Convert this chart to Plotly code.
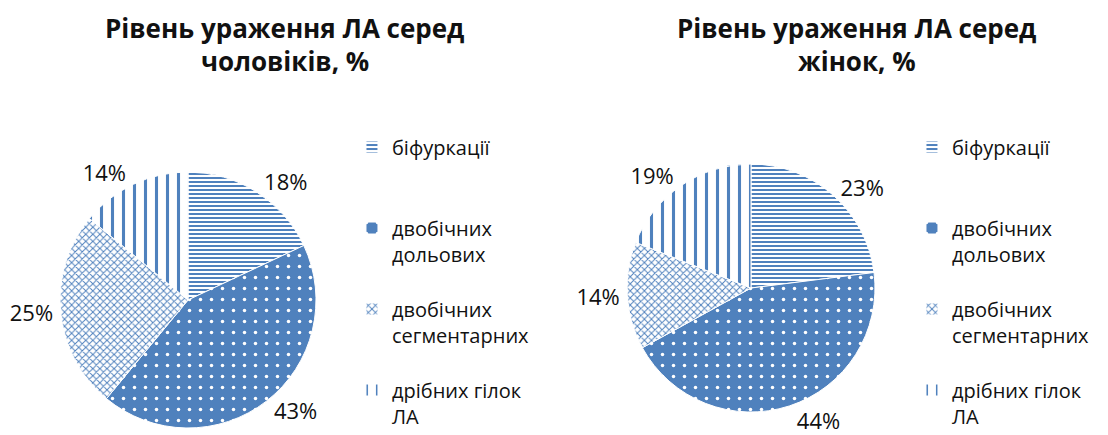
import plotly.graph_objects as go

categories = ["біфуркації", "двобічних дольових", "двобічних сегментарних", "дрібних гілок ЛА"]
legend_labels = ["біфуркації<br> <br> ", "двобічних<br>дольових<br> ", "двобічних<br>сегментарних<br> ", "дрібних гілок<br>ЛА"]
men_values = [18, 43, 25, 14]
women_values = [23, 44, 14, 19]
title_lines = [("Рівень ураження ЛА серед", "чоловіків, %"), ("Рівень ураження ЛА серед", "жінок, %")]

BLUE = "#4F81BD"
FONT = "Open Sans"

pattern = dict(
    shape=["-", ".", "x", "|"],
    fgcolor=[BLUE, "white", BLUE, BLUE],
    bgcolor=["white", BLUE, "white", "white"],
    size=[4, 11, 5, 11],
    solidity=[0.5, 0.08, 0.35, 0.28],
    fillmode="replace",
)

fig = go.Figure()
for vals, dom, leg, suffix in [
    (men_values, dict(x=[0.0473, 0.28], y=[0.0164, 0.6159]), "legend", ""),
    (women_values, dict(x=[0.5627, 0.7882], y=[0.0538, 0.6346]), "legend2", "\u200b"),
]:
    fig.add_trace(go.Pie(
        labels=[l + suffix for l in legend_labels],
        values=vals,
        sort=False,
        direction="clockwise",
        rotation=0,
        domain=dom,
        textinfo="percent",
        texttemplate="%{percent:.0%}",
        textposition="outside",
        textfont=dict(family=FONT, size=22, color="#111"),
        marker=dict(colors=[BLUE] * 4, pattern=pattern, line=dict(color="white", width=1)),
        showlegend=True,
        legend=leg,
        hoverinfo="label+percent",
    ))

legend_common = dict(
    font=dict(family=FONT, size=20, color="#111"),
    valign="top",
    bgcolor="rgba(0,0,0,0)",
    xanchor="left",
    yanchor="top",
    itemclick=False,
    itemdoubleclick=False,
)

annotations = []
for (l1, l2), xc in [(title_lines[0], 0.2518), (title_lines[1], 0.7718)]:
    for txt, yy in [(l1, 0.9532), (l2, 0.8759)]:
        annotations.append(dict(text=f"<b>{txt}</b>", x=xc, y=yy, xref="paper", yref="paper",
                                xanchor="center", yanchor="middle", showarrow=False,
                                font=dict(family=FONT, size=26, color="#111")))

fig.update_layout(
    width=1100,
    height=427,
    margin=dict(l=0, r=0, t=0, b=0, autoexpand=False),
    paper_bgcolor="white",
    plot_bgcolor="white",
    legend=dict(x=0.3127, y=0.7201, **legend_common),
    legend2=dict(x=0.8218, y=0.7201, **legend_common),
    annotations=annotations,
)

fig.write_html("out.html")
